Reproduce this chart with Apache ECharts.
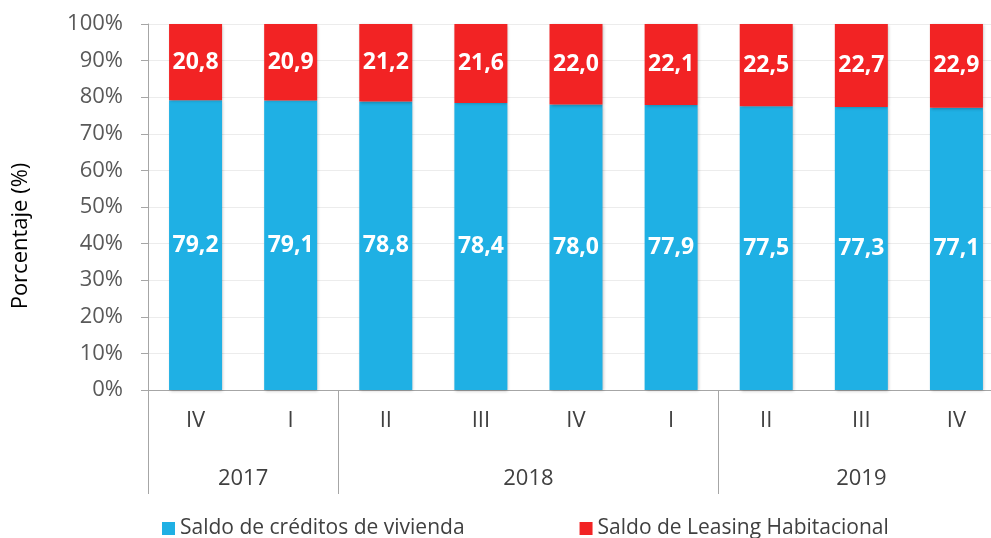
<!DOCTYPE html>
<html>
<head>
<meta charset="utf-8">
<script src="https://cdn.jsdelivr.net/npm/echarts@6/dist/echarts.min.js"></script>
<style>
  html, body { margin: 0; padding: 0; background: #fff; }
  #chart { width: 991px; height: 538px; }
</style>
</head>
<body>
<div id="chart"></div>
<script>
// trimestres (eje inferior) y años agrupados
var quarters = ['IV', 'I', 'II', 'III', 'IV', 'I', 'II', 'III', 'IV'];
var years = ['2017', '2018', '2019'];
// límites de cada año en medios de categoría (0..18) y posición del rótulo
var yearBounds = [0, 4, 12, 18];
var yearLabelPos = [2, 8, 15];

var creditos = [79.2, 79.1, 78.8, 78.4, 78.0, 77.9, 77.5, 77.3, 77.1];
var leasing = [20.8, 20.9, 21.2, 21.6, 22.0, 22.1, 22.5, 22.7, 22.9];

var fontFam = '"Open Sans", sans-serif';

// eje auxiliar de años: 19 puntos sobre medios de categoría
var halfSteps = [];
for (var i = 0; i <= 18; i++) {
    var k = yearLabelPos.indexOf(i);
    halfSteps.push(k >= 0 ? years[k] : '');
}

function fmt(p) {
    return p.value.toFixed(1).replace('.', ',');
}

var myChart = echarts.init(document.getElementById('chart'));

var option = {
    animation: false,
    textStyle: { fontFamily: fontFam },
    grid: { left: 148, top: 24, width: 856, height: 366, outerBoundsMode: 'none', containLabel: false },
    legend: {
        top: 513,
        left: 157,
        itemWidth: 13,
        itemHeight: 13,
        itemGap: 115,
        icon: 'rect',
        textStyle: { fontSize: 21, color: '#404040', fontFamily: fontFam },
        data: ['Saldo de créditos de vivienda', 'Saldo de Leasing Habitacional']
    },
    xAxis: [
        {
            type: 'category',
            data: quarters,
            axisLine: { lineStyle: { color: '#a6a6a6', width: 1 } },
            axisTick: { interval: 0, length: 52, lineStyle: { color: '#a6a6a6' } },
            axisLabel: { interval: 0, margin: 20, fontSize: 22, color: '#404040', fontFamily: fontFam }
        },
        {
            type: 'category',
            position: 'bottom',
            boundaryGap: false,
            data: halfSteps,
            axisLine: { show: false },
            axisTick: {
                length: 104,
                interval: function (idx) { return yearBounds.indexOf(idx) >= 0; },
                lineStyle: { color: '#a6a6a6' }
            },
            axisLabel: {
                margin: 78,
                interval: function (idx) { return yearLabelPos.indexOf(idx) >= 0; },
                fontSize: 22,
                color: '#404040',
                fontFamily: fontFam
            }
        }
    ],
    yAxis: {
        type: 'value',
        min: 0,
        max: 100,
        interval: 10,
        name: 'Porcentaje (%)',
        nameLocation: 'middle',
        nameRotate: 90,
        nameGap: 116,
        nameTextStyle: { fontSize: 22, color: '#000', fontFamily: fontFam, padding: [0, 58, 0, 0] },
        axisLine: { show: true, lineStyle: { color: '#a6a6a6' } },
        axisTick: { show: true, length: 7, lineStyle: { color: '#a6a6a6' } },
        axisLabel: { formatter: '{value}%', fontSize: 22, color: '#595959', margin: 25, fontFamily: fontFam },
        splitLine: { lineStyle: { color: '#ececec' } }
    },
    series: [
        {
            name: 'Saldo de créditos de vivienda',
            type: 'bar',
            stack: 'total',
            barWidth: 53,
            data: creditos,
            itemStyle: { color: '#1fb0e4', shadowBlur: 3, shadowColor: 'rgba(0,0,0,0.25)', shadowOffsetX: 1, shadowOffsetY: 1 },
            label: { show: true, position: 'inside', formatter: fmt, color: '#fff', fontWeight: 'bold', fontSize: 23, fontFamily: fontFam }
        },
        {
            name: 'Saldo de Leasing Habitacional',
            type: 'bar',
            stack: 'total',
            barWidth: 53,
            data: leasing,
            itemStyle: { color: '#f22324', shadowBlur: 3, shadowColor: 'rgba(0,0,0,0.25)', shadowOffsetX: 1, shadowOffsetY: 1 },
            label: { show: true, position: 'inside', formatter: fmt, color: '#fff', fontWeight: 'bold', fontSize: 23, fontFamily: fontFam }
        }
    ]
};

myChart.setOption(option);
</script>
</body>
</html>
